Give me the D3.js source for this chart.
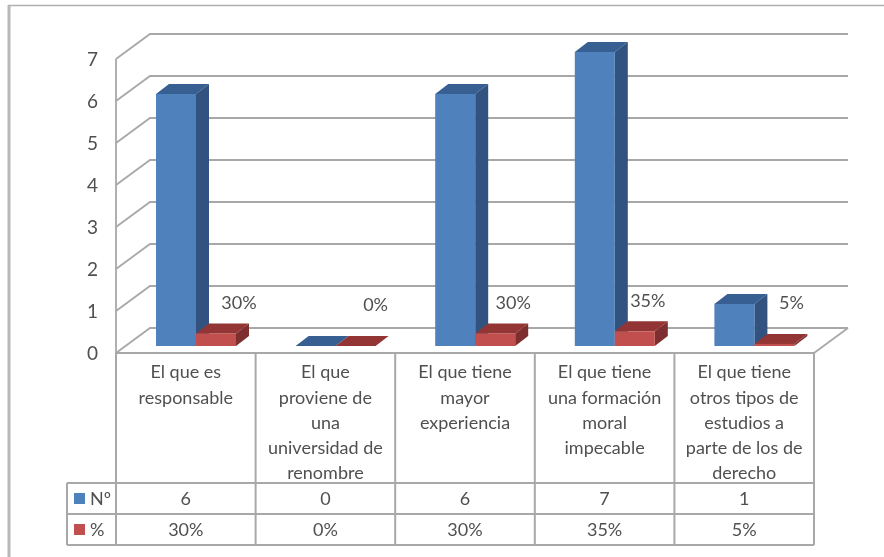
<!DOCTYPE html>
<html>
<head>
<meta charset="utf-8">
<script src="https://cdnjs.cloudflare.com/ajax/libs/d3/7.8.5/d3.min.js"></script>
<style>
  html, body { margin: 0; padding: 0; background: #fff; }
  svg { display: block; }
  text { font-family: Lato, "Open Sans", sans-serif; fill: #505050; }
</style>
</head>
<body>
<div id="chart"></div>
<script>
// chart values
var categories = [
  "El que es|responsable",
  "El que|proviene de|una|universidad de|renombre",
  "El que tiene|mayor|experiencia",
  "El que tiene|una formación|moral|impecable",
  "El que tiene|otros tipos de|estudios a|parte de los de|derecho"
]
var seriesNames = ["Nº", "%"]
var counts = [6, 0, 6, 7, 1]
var shares = [0.30, 0, 0.30, 0.35, 0.05]
var shareLabels = ["30%", "0%", "30%", "35%", "5%"]
var yTicks = [0, 1, 2, 3, 4, 5, 6, 7]

// layout
var width = 884, height = 557
var plotLeft = 116, plotRight = 814
var floorY = 353, topY = 59
var depthX = 34, depthY = 25       // wall depth
var barDepthX = 13, barDepthY = 10 // bar depth
var barInsetY = 7                  // bars stand a bit behind the front edge
var rowTops = [483, 514, 545]
var legendLeft = 67
var fontSize = "18px"

// the labels sit by hand in the original, so nudge them one by one
var labelDx = [23, 20, 18, 13, 17]
var labelDy = [303, 305, 303, 301, 303]

var colors = {
  grid: "#a8a8a8",
  blue: { front: "#4f81bd", top: "#375f91", side: "#30527f" },
  red: { front: "#c0504d", top: "#943634", side: "#7e2f2d" }
}

var x = d3.scaleBand().domain(d3.range(categories.length)).range([plotLeft, plotRight])
var inner = d3.scaleBand().domain(seriesNames).range([40, 120])
var y = d3.scaleLinear().domain([0, 7]).range([floorY, topY])

var svg = d3.select("#chart").append("svg")
  .attr("width", width)
  .attr("height", height)

// the reference is a soft screenshot
svg.append("defs").append("filter").attr("id", "soft")
  .append("feGaussianBlur").attr("stdDeviation", 0.45)

var g = svg.append("g").attr("filter", "url(#soft)")

// picture frame, left side is heavier than the top
g.append("path")
  .attr("d", "M9,5V" + height)
  .attr("fill", "none")
  .attr("stroke", "#b8b8b8")
  .attr("stroke-width", 3)
g.append("path")
  .attr("d", "M8," + 5.5 + "H" + width)
  .attr("fill", "none")
  .attr("stroke", "#b0b0b0")
  .attr("stroke-width", 1.6)

// walls and gridlines
var grid = g.append("g")
  .attr("fill", "none")
  .attr("stroke", colors.grid)
  .attr("stroke-width", 1.8)

grid.selectAll("path.gridline")
  .data(yTicks)
  .enter()
  .append("path")
  .attr("class", "gridline")
  .attr("d", function(d) {
    return "M" + plotLeft + "," + y(d) + "l" + depthX + "," + (-depthY) + "H" + (plotRight + depthX)
  })

grid.append("path")
  .attr("d", "M" + plotLeft + "," + y(7) + "V" + floorY)

grid.append("path")
  .attr("d", "M" + plotRight + "," + floorY + "l" + depthX + "," + (-depthY))

// one 3d bar: top, side, front
function drawBar(parent, left, w, value, c) {
  var bottom = y(0) - barInsetY
  var top = y(value) - barInsetY
  parent.append("path").attr("fill", c.top)
    .attr("d", "M" + left + "," + top + "l" + barDepthX + "," + (-barDepthY) + "h" + w + "l" + (-barDepthX) + "," + barDepthY + "z")
  parent.append("path").attr("fill", c.side)
    .attr("d", "M" + (left + w) + "," + top + "l" + barDepthX + "," + (-barDepthY) + "V" + (bottom - barDepthY) + "l" + (-barDepthX) + "," + barDepthY + "z")
  parent.append("rect").attr("fill", c.front)
    .attr("x", left).attr("y", top)
    .attr("width", w).attr("height", bottom - top)
}

var bars = g.append("g")
categories.forEach(function(cat, i) {
  drawBar(bars, x(i) + inner(seriesNames[0]), inner.bandwidth(), counts[i], colors.blue)
  drawBar(bars, x(i) + inner(seriesNames[1]), inner.bandwidth(), shares[i], colors.red)
})

// labels for the % series
g.selectAll("text.share")
  .data(shareLabels)
  .enter()
  .append("text")
  .attr("class", "share")
  .attr("x", function(d, i) { return x(i) + inner(seriesNames[1]) + inner.bandwidth() / 2 + labelDx[i] })
  .attr("y", function(d, i) { return labelDy[i] })
  .attr("dy", "0.35em")
  .attr("text-anchor", "middle")
  .style("font-size", fontSize)
  .text(function(d) { return d })

// y axis
var yAxis = g.append("g")
  .attr("transform", "translate(" + plotLeft + ",0)")
  .call(d3.axisLeft(y).tickValues(yTicks).tickSize(0).tickPadding(18).tickFormat(d3.format("d")))
yAxis.select(".domain").remove()
yAxis.selectAll("text")
  .style("font-family", "Lato, 'Open Sans', sans-serif")
  .style("font-size", "19px")
  .style("fill", "#505050")

// data table lines
var table = g.append("g")
  .attr("fill", "none")
  .attr("stroke", colors.grid)
  .attr("stroke-width", 2)

table.append("path").attr("d", "M" + plotLeft + "," + floorY + "H" + plotRight)
table.selectAll("path.row")
  .data(rowTops)
  .enter()
  .append("path")
  .attr("class", "row")
  .attr("d", function(d) { return "M" + legendLeft + "," + d + "H" + plotRight })
table.selectAll("path.col")
  .data(d3.range(categories.length + 1))
  .enter()
  .append("path")
  .attr("class", "col")
  .attr("d", function(d) {
    var cx = d < categories.length ? x(d) : plotRight
    return "M" + cx + "," + floorY + "V" + rowTops[2]
  })
table.append("path").attr("d", "M" + legendLeft + "," + rowTops[0] + "V" + rowTops[2])

// category text, one line at a time
categories.forEach(function(cat, i) {
  g.append("g").selectAll("text")
    .data(cat.split("|"))
    .enter()
    .append("text")
    .attr("x", x(i) + x.bandwidth() / 2)
    .attr("y", function(d, j) { return 372 + j * 25.2 })
    .attr("dy", "0.35em")
    .attr("text-anchor", "middle")
    .style("font-size", fontSize)
    .text(function(d) { return d })
})

// table rows
var rows = [counts.map(String), shareLabels]
var keyColors = [colors.blue.front, colors.red.front]
rows.forEach(function(row, r) {
  var midY = (rowTops[r] + rowTops[r + 1]) / 2
  g.append("rect")
    .attr("x", 74).attr("y", midY - 5.5)
    .attr("width", 11).attr("height", 11)
    .attr("fill", keyColors[r])
  g.append("text")
    .attr("x", 90).attr("y", midY)
    .attr("dy", "0.35em")
    .style("font-size", fontSize)
    .text(seriesNames[r])
  g.append("g").selectAll("text")
    .data(row)
    .enter()
    .append("text")
    .attr("x", function(d, i) { return x(i) + x.bandwidth() / 2 })
    .attr("y", midY)
    .attr("dy", "0.35em")
    .attr("text-anchor", "middle")
    .style("font-size", fontSize)
    .text(function(d) { return d })
})
</script>
</body>
</html>
